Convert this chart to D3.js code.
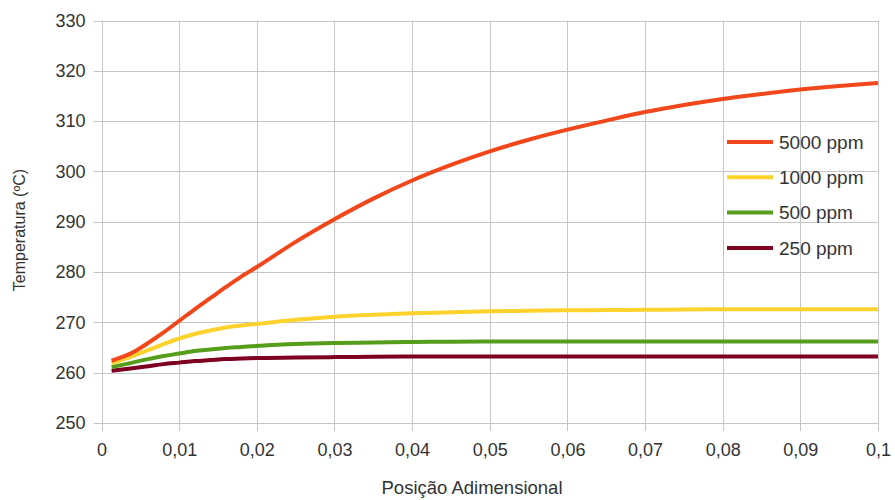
<!DOCTYPE html>
<html>
<head>
<meta charset="utf-8">
<script src="https://cdn.jsdelivr.net/npm/d3@7"></script>
<style>
  body { margin: 0; background: #fff; }
  svg { display: block; font-family: "Liberation Sans", Arial, sans-serif; }
</style>
</head>
<body>
<div id="chart"></div>
<script>
// Posição adimensional (x) shared by all series
const posicao = [0.0013, 0.004, 0.006, 0.008, 0.01, 0.012, 0.014, 0.016, 0.018, 0.02,
  0.025, 0.03, 0.035, 0.04, 0.045, 0.05, 0.055, 0.06, 0.065, 0.07,
  0.075, 0.08, 0.085, 0.09, 0.095, 0.1];

// Temperatura (ºC) per concentration
const t5000 = [262.4, 264.0, 265.9, 268.0, 270.3, 272.6, 274.8, 277.0, 279.1, 281.0,
  286.0, 290.5, 294.6, 298.2, 301.3, 304.0, 306.3, 308.3, 310.1, 311.8,
  313.2, 314.4, 315.4, 316.3, 317.0, 317.6];
const t1000 = [261.9, 263.3, 264.5, 265.7, 266.8, 267.7, 268.4, 269.0, 269.4, 269.7,
  270.5, 271.1, 271.5, 271.8, 272.0, 272.2, 272.3, 272.4, 272.45, 272.5,
  272.55, 272.6, 272.6, 272.6, 272.6, 272.6];
const t500 = [261.1, 262.0, 262.7, 263.3, 263.8, 264.3, 264.6, 264.9, 265.1, 265.3,
  265.7, 265.9, 266.0, 266.1, 266.15, 266.2, 266.2, 266.2, 266.2, 266.2,
  266.2, 266.2, 266.2, 266.2, 266.2, 266.2];
const t250 = [260.4, 260.9, 261.3, 261.7, 262.0, 262.3, 262.5, 262.7, 262.8, 262.9,
  263.0, 263.1, 263.15, 263.2, 263.2, 263.2, 263.2, 263.2, 263.2, 263.2,
  263.2, 263.2, 263.2, 263.2, 263.2, 263.2];

const seriesNames = ["5000 ppm", "1000 ppm", "500 ppm", "250 ppm"];
const seriesColors = ["#f2461b", "#fdd22c", "#579d1c", "#7e0021"];
const xTicks = [0, 0.01, 0.02, 0.03, 0.04, 0.05, 0.06, 0.07, 0.08, 0.09, 0.1];
const yTicks = [250, 260, 270, 280, 290, 300, 310, 320, 330];

const width = 895, height = 500;
const margin = { top: 20.5, right: 17, bottom: 77, left: 101.5 };

const svg = d3.select("#chart").append("svg")
  .attr("width", width)
  .attr("height", height);

const x = d3.scaleLinear().domain([0, 0.1]).range([margin.left, width - margin.right]);
const y = d3.scaleLinear().domain([250, 330]).range([height - margin.bottom, margin.top]);

const fmt = d => d === 0 ? "0" : d3.format("~g")(d).replace(".", ",");

// gridlines + outer ticks
const grid = svg.append("g").attr("stroke", "#c6c6c6").attr("stroke-width", 1);
grid.selectAll("line.v").data(xTicks).join("line")
  .attr("x1", d => Math.round(x(d)) + 0.5).attr("x2", d => Math.round(x(d)) + 0.5)
  .attr("y1", y(330)).attr("y2", y(250) + 8);
grid.selectAll("line.h").data(yTicks).join("line")
  .attr("y1", d => Math.round(y(d)) + 0.5).attr("y2", d => Math.round(y(d)) + 0.5)
  .attr("x1", x(0) - 8).attr("x2", x(0.1));

// axes labels
const xAxis = svg.append("g")
  .attr("transform", `translate(0,${y(250)})`)
  .call(d3.axisBottom(x).tickValues(xTicks).tickFormat(fmt).tickSize(0).tickPadding(20));
xAxis.select(".domain").remove();
xAxis.selectAll("text").attr("font-size", 18).attr("fill", "#333").attr("font-family", null);

const yAxis = svg.append("g")
  .attr("transform", `translate(${x(0)},0)`)
  .call(d3.axisLeft(y).tickValues(yTicks).tickFormat(d3.format("d")).tickSize(0).tickPadding(16));
yAxis.select(".domain").remove();
yAxis.selectAll("text").attr("font-size", 18).attr("fill", "#333").attr("font-family", null);

svg.append("text")
  .attr("x", 472).attr("y", 494)
  .attr("text-anchor", "middle")
  .attr("font-size", 18.5).attr("fill", "#333")
  .text("Posição Adimensional");

svg.append("text")
  .attr("transform", "translate(25,230) rotate(-90)")
  .attr("text-anchor", "middle")
  .attr("font-size", 16).attr("fill", "#333")
  .text("Temperatura (ºC)");

// lines
const allSeries = [t5000, t1000, t500, t250];
const line = d3.line()
  .x((d, i) => x(posicao[i]))
  .y(d => y(d))
  .curve(d3.curveMonotoneX);

svg.append("g").selectAll("path")
  .data(allSeries.slice().reverse())
  .join("path")
  .attr("fill", "none")
  .attr("stroke", (d, i) => seriesColors[3 - i])
  .attr("stroke-width", 4)
  .attr("stroke-linejoin", "round")
  .attr("d", line);

// legend
const legend = svg.append("g").attr("transform", "translate(727,142)");
const item = legend.selectAll("g").data(seriesNames).join("g")
  .attr("transform", (d, i) => `translate(0,${i * 35.3})`);
item.append("line")
  .attr("x1", 0).attr("x2", 46)
  .attr("stroke", (d, i) => seriesColors[i])
  .attr("stroke-width", 4);
item.append("text")
  .attr("x", 52).attr("dy", "0.35em")
  .attr("font-size", 19).attr("fill", "#333")
  .text(d => d);
</script>
</body>
</html>
